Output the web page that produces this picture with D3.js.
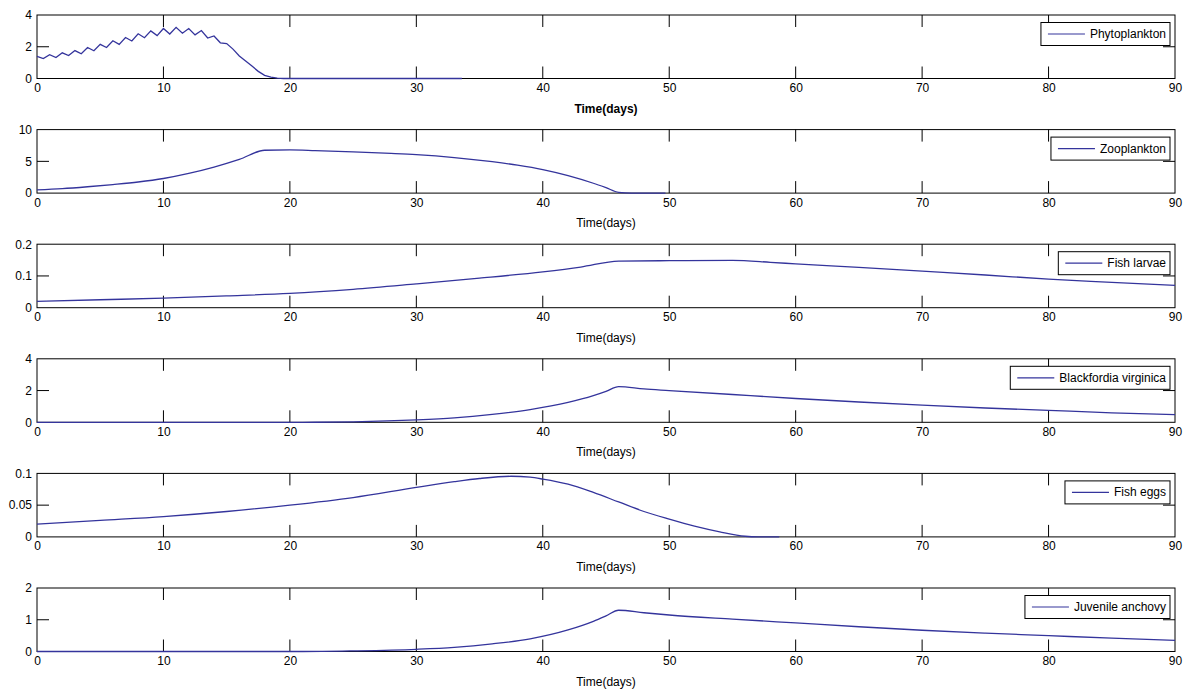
<!DOCTYPE html>
<html>
<head>
<meta charset="utf-8">
<script src="https://cdn.jsdelivr.net/npm/d3@7"></script>
<style>
  html, body { margin: 0; padding: 0; background: #fff; }
  svg { display: block; font-family: "Liberation Sans", Arial, sans-serif; }
</style>
</head>
<body>
<svg id="chart" width="1191" height="691"></svg>
<script>
// Time axis
const xTicks = [0, 10, 20, 30, 40, 50, 60, 70, 80, 90];

// Phytoplankton (daily oscillation, collapses near day 18)
const phytoDays = [0, 0.5, 1, 1.5, 2, 2.5, 3, 3.5, 4, 4.5, 5, 5.5, 6, 6.5, 7, 7.5, 8, 8.5, 9, 9.5,
  10, 10.5, 11, 11.5, 12, 12.5, 13, 13.5, 14, 14.5, 15, 15.5, 16, 16.5, 17, 17.5, 18, 18.5, 19, 19.5, 33.6];
const phytoVals = [1.39, 1.25, 1.5, 1.32, 1.62, 1.45, 1.76, 1.56, 1.95, 1.75, 2.15, 1.95, 2.38, 2.15, 2.58, 2.36, 2.82, 2.57, 3.0, 2.7,
  3.15, 2.8, 3.22, 2.85, 3.15, 2.75, 3.02, 2.55, 2.68, 2.25, 2.2, 1.85, 1.42, 1.1, 0.78, 0.45, 0.2, 0.08, 0.02, 0, 0];

// Zooplankton
const zooDays = [0, 2, 4, 6, 8, 10, 12, 14, 16, 18, 20, 22, 25, 28, 30, 33, 36, 38, 40, 42, 44, 45, 46, 47, 49.7];
const zooVals = [0.5, 0.7, 1.0, 1.35, 1.75, 2.3, 3.1, 4.1, 5.3, 6.75, 6.8, 6.7, 6.5, 6.25, 6.05, 5.6, 4.95, 4.4, 3.7, 2.75, 1.55, 0.85, 0.12, 0, 0];

// Fish larvae
const larvaeDays = [0, 5, 10, 15, 20, 25, 30, 35, 40, 43, 46, 50, 55, 58, 60, 65, 70, 75, 80, 85, 90];
const larvaeVals = [0.02, 0.025, 0.03, 0.037, 0.045, 0.058, 0.075, 0.093, 0.113, 0.128, 0.147, 0.148, 0.149, 0.143, 0.138, 0.127, 0.115, 0.103, 0.09, 0.08, 0.07];

// Blackfordia virginica
const blackDays = [0, 21, 25, 30, 33, 36, 39, 42, 44, 45, 46, 48, 50, 55, 60, 65, 70, 75, 80, 85, 90];
const blackVals = [0, 0, 0.03, 0.15, 0.28, 0.5, 0.8, 1.25, 1.68, 1.95, 2.25, 2.1, 2.0, 1.75, 1.5, 1.28, 1.08, 0.9, 0.75, 0.6, 0.48];

// Fish eggs
const eggsDays = [0, 5, 10, 15, 20, 25, 30, 33, 35, 37.5, 39, 40, 42, 44, 46, 48, 50, 52, 54, 56, 57, 58.7];
const eggsVals = [0.02, 0.026, 0.032, 0.04, 0.05, 0.062, 0.078, 0.087, 0.092, 0.0955, 0.094, 0.091, 0.083, 0.07, 0.055, 0.04, 0.028, 0.017, 0.008, 0.001, 0, 0];

// Juvenile anchovy
const anchovyDays = [0, 21, 25, 30, 33, 36, 39, 42, 44, 45, 46, 48, 50, 55, 60, 65, 70, 75, 80, 85, 90];
const anchovyVals = [0, 0, 0.02, 0.07, 0.13, 0.24, 0.4, 0.68, 0.95, 1.12, 1.3, 1.22, 1.15, 1.02, 0.9, 0.78, 0.67, 0.58, 0.5, 0.42, 0.35];

// Panel definitions: names, y-axis ticks and labels
const panelNames = ["Phytoplankton", "Zooplankton", "Fish larvae", "Blackfordia virginica", "Fish eggs", "Juvenile anchovy"];
const panelYTicks = [[0, 2, 4], [0, 5, 10], [0, 0.1, 0.2], [0, 2, 4], [0, 0.05, 0.1], [0, 1, 2]];
const panelYLabels = [["0", "2", "4"], ["0", "5", "10"], ["0", "0.1", "0.2"], ["0", "2", "4"], ["0", "0.05", "0.1"], ["0", "1", "2"]];
const panelDays = [phytoDays, zooDays, larvaeDays, blackDays, eggsDays, anchovyDays];
const panelVals = [phytoVals, zooVals, larvaeVals, blackVals, eggsVals, anchovyVals];
const panelCurves = [d3.curveLinear, d3.curveMonotoneX, d3.curveMonotoneX, d3.curveMonotoneX, d3.curveMonotoneX, d3.curveMonotoneX];

const svg = d3.select("#chart");
const left = 37, right = 1175;
const firstTop = 15, step = 114.6, panelH = 63.5;
const tickLen = 12;
const lineColor = "#34349c";

const x = d3.scaleLinear().domain([0, 90]).range([left, right]);

panelNames.forEach((name, i) => {
  const top = firstTop + i * step;
  const bottom = top + panelH;
  const yt = panelYTicks[i];
  const y = d3.scaleLinear().domain([yt[0], yt[yt.length - 1]]).range([bottom, top]);
  const g = svg.append("g");

  // plot box
  g.append("rect").attr("x", left).attr("y", top).attr("width", right - left).attr("height", bottom - top)
    .attr("fill", "#fff").attr("stroke", "#000").attr("stroke-width", 1);

  // bottom axis labels
  const xAxisB = d3.axisBottom(x).tickValues(xTicks).tickSize(0).tickPadding(5).tickFormat(d3.format("d"));
  const gxb = g.append("g").attr("transform", `translate(0,${bottom})`).call(xAxisB);
  gxb.select(".domain").remove();
  gxb.selectAll("text").attr("font-size", 12).attr("fill", "#000").attr("font-family", "Liberation Sans, Arial, sans-serif");

  // inward x tick marks, top and bottom
  const inner = xTicks.slice(1, -1);
  g.selectAll(".xtb").data(inner).enter().append("line")
    .attr("x1", d => x(d)).attr("x2", d => x(d)).attr("y1", bottom).attr("y2", bottom - tickLen)
    .attr("stroke", "#000");
  g.selectAll(".xtt").data(inner).enter().append("line")
    .attr("x1", d => x(d)).attr("x2", d => x(d)).attr("y1", top).attr("y2", top + tickLen)
    .attr("stroke", "#000");

  // left axis labels
  const yAxis = d3.axisLeft(y).tickValues(yt).tickSize(0).tickPadding(5)
    .tickFormat((d, k) => panelYLabels[i][k]);
  const gy = g.append("g").attr("transform", `translate(${left},0)`).call(yAxis);
  gy.select(".domain").remove();
  gy.selectAll("text").attr("font-size", 12).attr("fill", "#000").attr("font-family", "Liberation Sans, Arial, sans-serif");

  // inward y tick marks (left and right) for the middle tick
  const midTicks = yt.slice(1, -1);
  g.selectAll(".ytl").data(midTicks).enter().append("line")
    .attr("x1", left).attr("x2", left + tickLen).attr("y1", d => y(d)).attr("y2", d => y(d))
    .attr("stroke", "#000");
  g.selectAll(".ytr").data(midTicks).enter().append("line")
    .attr("x1", right).attr("x2", right - tickLen).attr("y1", d => y(d)).attr("y2", d => y(d))
    .attr("stroke", "#000");

  // series, drawn over the frame
  const pts = panelDays[i].map((d, k) => [d, panelVals[i][k]]);
  g.append("path")
    .datum(pts)
    .attr("fill", "none")
    .attr("stroke", lineColor)
    .attr("stroke-width", 1.3)
    .attr("d", d3.line().x(d => x(d[0])).y(d => y(d[1])).curve(panelCurves[i]));

  // x label
  g.append("text")
    .attr("x", (left + right) / 2).attr("y", bottom + 34)
    .attr("text-anchor", "middle")
    .attr("font-size", 12)
    .attr("font-weight", i === 0 ? "bold" : "normal")
    .text("Time(days)");

  // legend
  const lg = g.append("g");
  const lbox = lg.append("rect").attr("fill", "#fff").attr("stroke", "#000").attr("stroke-width", 1);
  const ltext = lg.append("text").attr("font-size", 12).attr("dominant-baseline", "central").text(name);
  const tw = ltext.node().getComputedTextLength();
  const boxRight = right - 5, boxTop = top + 7.5, boxH = 23;
  const boxW = tw + 53;
  const boxLeft = boxRight - boxW;
  lbox.attr("x", boxLeft).attr("y", boxTop).attr("width", boxW).attr("height", boxH);
  lg.append("line")
    .attr("x1", boxLeft + 7).attr("x2", boxLeft + 44)
    .attr("y1", boxTop + boxH / 2).attr("y2", boxTop + boxH / 2)
    .attr("stroke", lineColor).attr("stroke-width", 1.2);
  ltext.attr("x", boxLeft + 49).attr("y", boxTop + boxH / 2);
});
</script>
</body>
</html>
